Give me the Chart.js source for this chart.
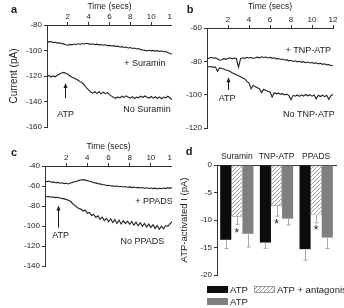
<!DOCTYPE html>
<html>
<head>
<meta charset="utf-8">
<script src="https://cdn.jsdelivr.net/npm/chart.js@4.4.0/dist/chart.umd.min.js"></script>
<style>
  body { margin: 0; background: #fff; }
  #wrap { position: relative; width: 344px; height: 308px; overflow: hidden; }
  canvas { position: absolute; }
  #chartB, #chartD { background: #fff; }
</style>
</head>
<body>
<div id="wrap">
  <canvas id="chartA" width="180" height="145" style="left:0;top:0"></canvas>
  <canvas id="chartC" width="180" height="168" style="left:0;top:140px"></canvas>
  <canvas id="chartB" width="172" height="145" style="left:172px;top:0"></canvas>
  <canvas id="chartD" width="172" height="168" style="left:172px;top:140px"></canvas>
</div>
<script>
// time points of the current traces (secs)
const times = [0, 0.2, 0.4, 0.6, 0.8, 1, 1.2, 1.4, 1.6, 1.8, 2, 2.2, 2.4, 2.6, 2.8, 3, 3.2, 3.4, 3.6, 3.8,
  4, 4.2, 4.4, 4.6, 4.8, 5, 5.2, 5.4, 5.6, 5.8, 6, 6.2, 6.4, 6.6, 6.8, 7, 7.2, 7.4, 7.6, 7.8,
  8, 8.2, 8.4, 8.6, 8.8, 9, 9.2, 9.4, 9.6, 9.8, 10, 10.2, 10.4, 10.6, 10.8, 11, 11.2, 11.4, 11.6, 11.8, 12];
const timeTicks = [2, 4, 6, 8, 10, 12];

// panel a (pA)
const suramin = [-92.6, -93.4, -93.0, -93.8, -93.5, -94.2, -93.9, -94.6, -94.8, -95.5, -95.8, -95.2, -95.6, -94.9, -95.3, -94.7, -95.1, -94.5, -94.9, -94.3,
  -94.8, -95.2, -94.7, -95.4, -95.0, -95.6, -95.3, -95.9, -95.5, -96.2, -96.0, -96.5, -96.2, -96.9, -96.6, -97.2, -97.0, -97.6, -97.3, -98.0,
  -97.7, -98.4, -98.1, -98.8, -98.5, -99.3, -99.6, -99.9, -100.4, -99.8, -100.3, -99.9, -100.5, -100.1, -100.7, -100.4, -101.0, -100.8, -101.6, -102.3, -102.8];
const noSuramin = [-120.5, -119.6, -120.8, -119.9, -120.6, -119.2, -118.5, -117.6, -117.2, -117.9, -118.6, -119.8, -120.9, -121.6, -122.5, -123.4, -124.6, -125.5, -127.2, -129.4,
  -131.0, -132.6, -133.5, -132.4, -133.8, -132.2, -134.0, -132.7, -133.9, -133.1, -134.6, -135.8, -136.9, -137.5, -136.4, -137.2, -135.9, -136.8, -135.6, -136.7,
  -137.4, -136.2, -137.6, -136.5, -137.1, -135.8, -136.9, -135.7, -136.6, -137.3, -136.1, -137.4, -136.3, -137.6, -136.4, -137.8, -136.5, -137.2, -135.9, -137.1, -138.4];

// panel b (pA)
const tnpAtp = [-77.8, -78.3, -77.6, -78.1, -77.9, -78.6, -79.3, -79.0, -78.4, -78.8, -78.2, -77.9, -78.5, -78.0, -78.3, -83.5, -78.4, -77.9, -78.2, -77.6,
  -78.0, -77.7, -78.3, -77.8, -77.5, -77.9, -77.3, -77.7, -77.4, -78.0, -77.6, -78.2, -77.9, -78.5, -78.3, -78.9, -78.6, -79.3, -79.0, -79.7,
  -79.4, -80.1, -79.7, -80.3, -80.0, -80.6, -80.2, -80.8, -80.4, -81.0, -80.7, -81.2, -80.9, -81.5, -81.2, -81.8, -81.5, -82.1, -81.9, -82.6, -82.3];
const noTnpAtp = [-83.0, -83.4, -83.1, -83.6, -83.3, -86.0, -84.0, -84.3, -84.6, -85.2, -85.5, -86.1, -86.8, -87.4, -88.0, -88.7, -89.2, -90.0, -90.6, -92.0,
  -93.0, -96.5, -94.5, -95.2, -95.9, -96.4, -98.8, -96.8, -97.5, -98.0, -98.4, -101.5, -98.9, -99.5, -99.1, -99.8, -99.4, -100.2, -99.7, -100.6,
  -103.0, -100.4, -100.9, -100.2, -101.0, -100.1, -100.8, -99.9, -100.7, -100.0, -100.9, -100.2, -102.5, -100.4, -101.1, -100.3, -101.2, -100.4, -102.8, -100.6, -99.8];

// panel c (pA)
const ppads = [-55.0, -55.6, -55.3, -56.2, -55.9, -56.8, -56.4, -57.2, -56.8, -57.6, -57.2, -57.9, -57.0, -56.4, -55.6, -55.2, -54.4, -54.0, -53.6, -54.1,
  -54.6, -55.3, -55.8, -56.6, -56.9, -57.6, -57.9, -58.6, -58.8, -59.5, -59.3, -60.0, -59.7, -60.4, -60.0, -60.7, -60.3, -61.0, -60.6, -61.3,
  -60.9, -61.6, -61.1, -61.8, -61.4, -62.0, -61.6, -62.3, -61.8, -62.5, -62.0, -62.6, -62.1, -62.8, -62.2, -62.7, -62.0, -62.6, -61.7, -62.3, -61.5];
const noPpads = [-70.2, -70.8, -70.5, -71.2, -71.0, -71.6, -71.3, -72.0, -72.4, -72.9, -73.4, -74.2, -75.3, -77.5, -79.4, -81.0, -82.6, -83.1, -85.0, -84.2,
  -87.3, -86.5, -89.6, -88.4, -91.5, -89.8, -93.4, -91.2, -94.6, -92.3, -95.8, -92.7, -96.5, -93.6, -97.4, -94.2, -98.0, -94.8, -97.6, -95.1,
  -98.4, -95.5, -99.2, -96.0, -99.7, -96.8, -100.3, -97.4, -101.0, -98.1, -101.6, -98.8, -102.4, -99.5, -103.2, -100.1, -102.8, -99.6, -100.4, -97.8, -95.6];

// panel d (pA)
const antagonists = ["Suramin", "TNP-ATP", "PPADS"];
const atpMean = [-13.6, -14.1, -15.3];
const atpErr = [1.6, 1.05, 2.0];
const withAntagonistMean = [-9.4, -7.45, -9.15];
const withAntagonistErr = [1.4, 1.85, 1.35];
const atpAgainMean = [-12.5, -9.75, -13.2];
const atpAgainErr = [2.4, 1.15, 2.0];
const starLevel = [-12.4, -10.8, -11.9];
const yTicksD = [0, -5, -10, -15, -20];

Chart.defaults.font.family = '"Liberation Sans", Arial, sans-serif';
Chart.defaults.color = "#1a1a1a";

const ink = "#1a1a1a";
const axisColor = "#333";

// text, arrows, stars, error bars and legend drawn on top of each panel
const panelText = {
  id: "panelText",
  afterDatasetsDraw(chart, args, opts) {
    const ctx = chart.ctx;
    const xs = chart.scales.x, ys = chart.scales.y;
    ctx.save();
    ctx.fillStyle = ink;
    ctx.strokeStyle = ink;
    ctx.textAlign = "center";
    ctx.textBaseline = "middle";

    if (opts.errors) {
      ctx.strokeStyle = "#a8a8a8";
      ctx.lineWidth = 1;
      opts.errors.forEach((errs, di) => {
        const meta = chart.getDatasetMeta(di);
        meta.data.forEach((bar, i) => {
          const v = chart.data.datasets[di].data[i];
          const x = Math.round(bar.x) + 0.5;
          const yEnd = ys.getPixelForValue(v - errs[i]);
          ctx.beginPath();
          ctx.moveTo(x, bar.y);
          ctx.lineTo(x, yEnd);
          ctx.moveTo(x - 2, yEnd);
          ctx.lineTo(x + 2, yEnd);
          ctx.stroke();
        });
      });
      ctx.strokeStyle = ink;
    }

    if (opts.letter) {
      ctx.font = 'bold 11px "Liberation Sans", Arial, sans-serif';
      ctx.fillText(opts.letter[0], opts.letter[1], opts.letter[2]);
    }

    ctx.font = (opts.noteSize || 9) + 'px "Liberation Sans", Arial, sans-serif';
    (opts.notes || []).forEach(n => {
      ctx.fillText(n.text, xs.getPixelForValue(n.x), ys.getPixelForValue(n.y));
    });

    if (opts.arrow) {
      const a = opts.arrow;
      const x = Math.round(xs.getPixelForValue(a.x)) + 0.5;
      const y0 = ys.getPixelForValue(a.from);
      const y1 = ys.getPixelForValue(a.to);
      ctx.lineWidth = 1;
      ctx.beginPath();
      ctx.moveTo(x, y0);
      ctx.lineTo(x, y1 + 3);
      ctx.stroke();
      ctx.beginPath();
      ctx.moveTo(x, y1);
      ctx.lineTo(x - 2, y1 + 5);
      ctx.lineTo(x + 2, y1 + 5);
      ctx.closePath();
      ctx.fill();
    }

    if (opts.legend) {
      ctx.textAlign = "left";
      ctx.font = '9.5px "Liberation Sans", Arial, sans-serif';
      opts.legend.forEach(item => {
        const ds = chart.data.datasets[item.index];
        ctx.fillStyle = ds.backgroundColor;
        ctx.fillRect(item.x, item.y, 21, 7);
        if (ds.borderWidth) {
          ctx.strokeStyle = ds.borderColor;
          ctx.lineWidth = 0.8;
          ctx.strokeRect(item.x + 0.5, item.y + 0.5, 20, 6);
        }
        ctx.fillStyle = ink;
        ctx.fillText(ds.label, item.x + 23, item.y + 4);
      });
    }
    ctx.restore();
  }
};
Chart.register(panelText);

function tracePanel(id, upper, lower, yMin, yMax, box, text) {
  return new Chart(document.getElementById(id), {
    type: "line",
    data: {
      datasets: [
        { data: times.map((t, i) => ({ x: t, y: upper[i] })) },
        { data: times.map((t, i) => ({ x: t, y: lower[i] })) }
      ]
    },
    options: {
      responsive: false,
      animation: false,
      events: [],
      layout: { padding: { left: 0, top: 0, right: box.right, bottom: box.bottom } },
      elements: {
        point: { radius: 0 },
        line: { borderColor: "#222", borderWidth: 1.1, tension: 0 }
      },
      plugins: { legend: { display: false }, tooltip: { enabled: false }, panelText: text },
      scales: {
        x: {
          type: "linear",
          position: "top",
          min: 0,
          max: 12,
          afterBuildTicks: s => { s.ticks = timeTicks.map(v => ({ value: v })); },
          ticks: { font: { size: 8 }, padding: 0, maxRotation: 0 },
          grid: { drawOnChartArea: false, tickLength: 3, color: axisColor },
          border: { color: axisColor },
          title: { display: true, text: "Time (secs)", font: { size: 8.5 }, padding: { top: 1.5, bottom: 0 } },
          afterFit: s => { s.height = box.xHeight; s.paddingLeft = 0; s.paddingRight = 0; }
        },
        y: {
          min: yMin,
          max: yMax,
          ticks: { stepSize: 20, font: { size: 8 }, padding: 2 },
          grid: { drawOnChartArea: false, tickLength: 3, color: axisColor },
          border: { color: axisColor },
          title: { display: !!box.yTitle, text: box.yTitle || "", font: { size: 10 }, padding: { top: 8, bottom: 0 } },
          afterFit: s => { s.width = box.yWidth; s.paddingTop = 0; s.paddingBottom = 0; }
        }
      }
    }
  });
}

tracePanel("chartA", suramin, noSuramin, -160, -80,
  { yWidth: 47, xHeight: 25, right: 8, bottom: 18, yTitle: "Current (pA)" },
  {
    letter: ["a", 14, 10],
    notes: [
      { text: "+ Suramin", x: 9.4, y: -110 },
      { text: "No Suramin", x: 9.6, y: -146.4 },
      { text: "ATP", x: 1.79, y: -150.2 }
    ],
    arrow: { x: 1.72, from: -137.4, to: -125.4 }
  });

tracePanel("chartB", tnpAtp, noTnpAtp, -120, -60,
  { yWidth: 35, xHeight: 28, right: 11, bottom: 17 },
  {
    letter: ["b", 18, 10],
    notes: [
      { text: "+ TNP-ATP", x: 9.65, y: -73.8 },
      { text: "No TNP-ATP", x: 9.7, y: -111.8 },
      { text: "ATP", x: 1.91, y: -102.4 }
    ],
    arrow: { x: 1.96, from: -97.2, to: -89.6 }
  });

tracePanel("chartC", ppads, noPpads, -140, -40,
  { yWidth: 45, xHeight: 26, right: 8, bottom: 42 },
  {
    letter: ["c", 14, 13],
    notes: [
      { text: "+ PPADS", x: 10.3, y: -75.4 },
      { text: "No PPADS", x: 9.2, y: -116 },
      { text: "ATP", x: 1.48, y: -109.4 }
    ],
    arrow: { x: 1.22, from: -101.7, to: -79.4 }
  });

// hatch fill for the antagonist bars
const ctxD = document.getElementById("chartD").getContext("2d");
const tile = document.createElement("canvas");
tile.width = 4;
tile.height = 4;
const tg = tile.getContext("2d");
tg.fillStyle = "#fff";
tg.fillRect(0, 0, 4, 4);
tg.strokeStyle = "#909090";
tg.lineWidth = 0.9;
tg.beginPath();
tg.moveTo(0, 4); tg.lineTo(4, 0);
tg.moveTo(-1, 1); tg.lineTo(1, -1);
tg.moveTo(3, 5); tg.lineTo(5, 3);
tg.stroke();
const hatch = ctxD.createPattern(tile, "repeat");

new Chart(ctxD, {
  type: "bar",
  data: {
    labels: antagonists,
    datasets: [
      { label: "ATP", data: atpMean, backgroundColor: "#0c0c0c", borderWidth: 0 },
      { label: "ATP + antagonist", data: withAntagonistMean, backgroundColor: hatch, borderColor: "#8a8a8a", borderWidth: 0.8 },
      { label: "ATP", data: atpAgainMean, backgroundColor: "#7f7f7f", borderWidth: 0 }
    ]
  },
  options: {
    responsive: false,
    animation: false,
    events: [],
    layout: { padding: { left: 0, top: 0, right: 8, bottom: 33 } },
    datasets: { bar: { categoryPercentage: 0.84, barPercentage: 1.0 } },
    plugins: {
      legend: { display: false },
      tooltip: { enabled: false },
      panelText: {
        letter: ["d", 17, 12],
        errors: [atpErr, withAntagonistErr, atpAgainErr],
        noteSize: 12,
        notes: antagonists.map((c, i) => ({ text: "*", x: i, y: starLevel[i] })),
        legend: [
          { index: 0, x: 35, y: 146 },
          { index: 1, x: 82, y: 146 },
          { index: 2, x: 35, y: 158 }
        ]
      }
    },
    scales: {
      x: {
        position: "top",
        ticks: { font: { size: 8.5 }, padding: 3, maxRotation: 0, minRotation: 0, autoSkip: false },
        grid: { drawOnChartArea: false, drawTicks: false, color: axisColor },
        border: { color: axisColor },
        afterFit: s => { s.height = 25; s.paddingLeft = 0; s.paddingRight = 0; }
      },
      y: {
        min: -20,
        max: 0,
        afterBuildTicks: s => { s.ticks = yTicksD.map(v => ({ value: v })); },
        ticks: { font: { size: 8 }, padding: 2 },
        grid: { drawOnChartArea: false, tickLength: 3, color: axisColor },
        border: { color: axisColor },
        title: { display: true, text: "ATP-activated I (pA)", font: { size: 9.5 }, padding: { top: 7, bottom: 0 } },
        afterFit: s => { s.width = 45; s.paddingTop = 0; s.paddingBottom = 0; }
      }
    }
  }
});
</script>
</body>
</html>
